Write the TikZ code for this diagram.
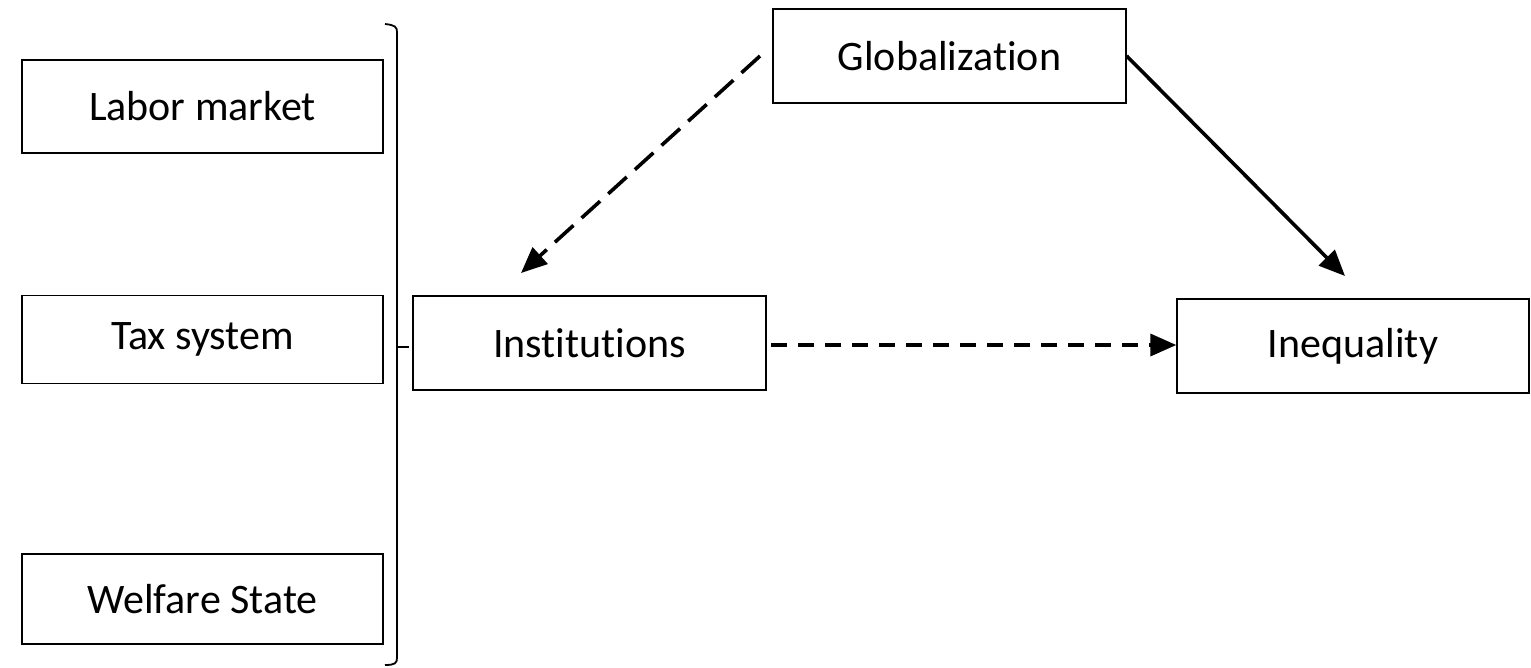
\documentclass[tikz,border=0pt]{standalone}
\usepackage{fontspec}
\setmainfont[Ligatures=NoCommon]{Carlito}
\usetikzlibrary{arrows.meta}
\begin{document}
\begin{tikzpicture}[x=1pt,y=-1pt,
  box/.style={draw=black, line width=1.4pt, rectangle, inner sep=0pt, font=\fontsize{42}{46}\selectfont, text=black},
  conn/.style={line width=3.6pt, -{Triangle[length=26pt,width=22pt]}},
  longdash/.style={dash pattern=on 25pt off 11pt},
  shortdash/.style={dash pattern=on 16pt off 11pt}]
\useasboundingbox (0,0) rectangle (1531,667);
\node[box, minimum width=361pt, minimum height=93pt] (labor) at (202.5,106.5) {Labor market};
\node[box, minimum width=361pt, minimum height=88pt] (tax) at (202.5,339.5) {Tax system};
\node[box, minimum width=361pt, minimum height=90pt] (welfare) at (202.5,599) {Welfare State};
\node[box, minimum width=353pt, minimum height=94pt] (inst) at (589.5,343) {Institutions};
\node[box, minimum width=353pt, minimum height=94pt] (glob) at (949.5,56) {Globalization};
\node[box, minimum width=352pt, minimum height=94pt] (ineq) at (1353,346) {Inequality};
\coordinate (gstart) at (760,56);
\coordinate (itip) at (521,273);
\coordinate (qtip) at (1345,276);
\coordinate (hstart) at (771,345);
\draw[conn, longdash] (gstart) -- (itip);
\draw[conn] (glob.east) -- (qtip);
\draw[conn, shortdash] (hstart) -- (ineq.west |- hstart);
\draw[line width=1.8pt] (385,24) .. controls (395,25) and (397,27) .. (397,32) -- (397,658) .. controls (397,663) and (395,665) .. (385,665);
\draw[line width=1.8pt] (397,347) -- (409,347);
\end{tikzpicture}
\end{document}
